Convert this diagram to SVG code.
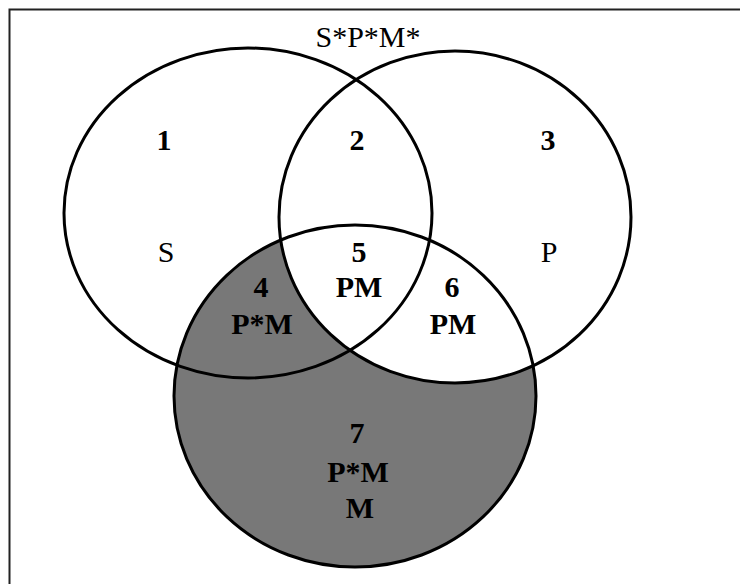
<svg xmlns="http://www.w3.org/2000/svg" width="740" height="584" viewBox="0 0 740 584">
<style>
.ring{fill:none;stroke:#000;stroke-width:3}
.lbl{font-family:"Liberation Serif","Times New Roman",serif;font-size:30px;fill:#000;text-anchor:middle}
.b{font-weight:bold}
</style>
<rect x="0" y="0" width="740" height="584" fill="#fff"/>
<path d="M9.5 584 V9.5 H740" fill="none" stroke="#222" stroke-width="2"/>
<g id="shading">
<ellipse cx="355" cy="396" rx="181" ry="171" fill="#787878"/>
<ellipse cx="455" cy="217" rx="176" ry="166" fill="#fff"/>
</g>
<g id="circle-S"><ellipse class="ring" cx="248" cy="213" rx="184" ry="165"/></g>
<g id="circle-P"><ellipse class="ring" cx="455" cy="217" rx="176" ry="166"/></g>
<g id="circle-M"><ellipse class="ring" cx="355" cy="396" rx="181" ry="171"/></g>
<g id="labels">
<text class="lbl" x="368" y="47">S*P*M*</text>
<text class="lbl b" x="164" y="150">1</text>
<text class="lbl b" x="357" y="150">2</text>
<text class="lbl b" x="548" y="150">3</text>
<text class="lbl" x="166" y="262">S</text>
<text class="lbl b" x="359" y="262">5</text>
<text class="lbl" x="549" y="262">P</text>
<text class="lbl b" x="261" y="297">4</text>
<text class="lbl b" x="262" y="334">P*M</text>
<text class="lbl b" x="359" y="297">PM</text>
<text class="lbl b" x="452" y="297">6</text>
<text class="lbl b" x="453" y="334">PM</text>
<text class="lbl b" x="357" y="443">7</text>
<text class="lbl b" x="358" y="482">P*M</text>
<text class="lbl b" x="360" y="518">M</text>
</g>
</svg>
